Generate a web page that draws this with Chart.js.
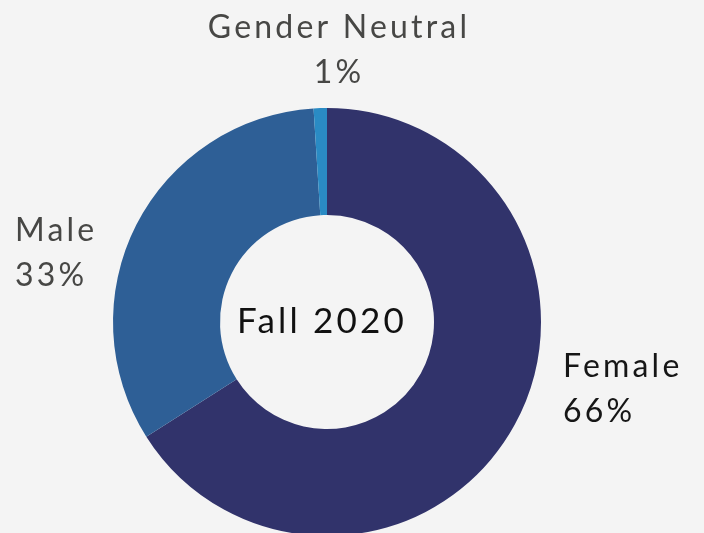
<!DOCTYPE html>
<html>
<head>
<meta charset="utf-8">
<script src="https://cdn.jsdelivr.net/npm/chart.js@4"></script>
<style>
  html, body { margin: 0; padding: 0; background: #f4f4f4; overflow: hidden; }
  #wrap { width: 704px; height: 560px; }
</style>
</head>
<body>
<div id="wrap"><canvas id="genderChart" width="704" height="560"></canvas></div>
<script>
var categories = ['Female', 'Male', 'Gender Neutral'];
var shares = [66, 33, 1];
var sliceColors = ['#31336b', '#2e5f96', '#2a8bc4'];
var labelColors = ['#161616', '#474745', '#474745'];
var centerTitle = 'Fall 2020';

var FONT = 'Lato, "Open Sans", sans-serif';

// draws the outside labels and the title in the hole
var labelPlugin = {
    id: 'sliceLabels',
    afterDraw: function (chart) {
        var ctx = chart.ctx;
        var meta = chart.getDatasetMeta(0);
        var first = meta.data[0];
        var cx = first.x, cy = first.y, R = first.outerRadius;
        ctx.save();
        ctx.textBaseline = 'alphabetic';
        ctx.letterSpacing = '3.2px';
        ctx.font = '32px ' + FONT;

        meta.data.forEach(function (arc, i) {
            var lines = [categories[i], shares[i] + '%'];
            var mid = (arc.startAngle + arc.endAngle) / 2;
            var x, y;
            ctx.fillStyle = labelColors[i];
            if (Math.cos(mid) > 0.2) {
                // right side
                ctx.textAlign = 'left';
                x = cx + R + 22;
                y = cy + 55;
            } else if (Math.cos(mid) < -0.2) {
                ctx.textAlign = 'left';
                x = cx - R - 98;
                y = cy - 81;
            } else {
                // top
                ctx.textAlign = 'center';
                x = cx + 12;
                y = cy - R - 70;
            }
            ctx.fillText(lines[0], x, y);
            ctx.fillText(lines[1], x, y + 45);
        });

        ctx.fillStyle = '#111111';
        ctx.textAlign = 'center';
        ctx.letterSpacing = '3.2px';
        ctx.font = '35px ' + FONT;
        ctx.fillText(centerTitle, cx - 5, cy + 11);
        ctx.restore();
    }
};

new Chart(document.getElementById('genderChart'), {
    type: 'doughnut',
    data: {
        labels: categories,
        datasets: [{
            data: shares,
            backgroundColor: sliceColors,
            borderWidth: 0
        }]
    },
    options: {
        responsive: false,
        animation: false,
        cutout: '50%',
        layout: { padding: { top: 108, bottom: 24, left: 113, right: 163 } },
        plugins: {
            legend: { display: false },
            tooltip: { enabled: false }
        }
    },
    plugins: [labelPlugin]
});
</script>
</body>
</html>
